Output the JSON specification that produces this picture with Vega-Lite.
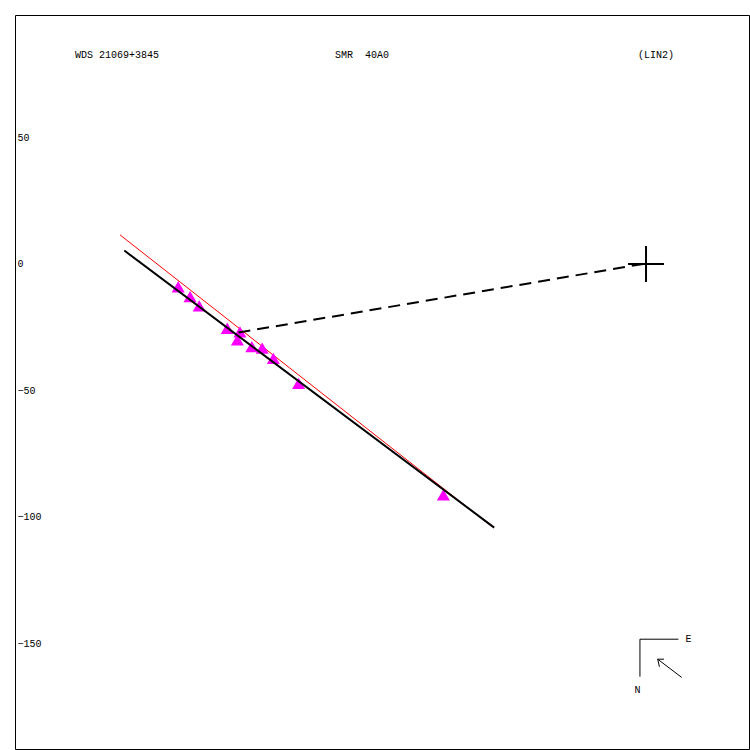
{
  "$schema": "https://vega.github.io/schema/vega-lite/v6.json",
  "width": 734,
  "height": 734,
  "autosize": {"type": "none"},
  "padding": {"left": 15, "top": 15, "right": 1, "bottom": 1},
  "background": "white",
  "config": {
    "view": {"stroke": "black", "strokeWidth": 1},
    "font": "Liberation Mono"
  },
  "datasets": {
    "fit": [{"x": -206.2, "y": 5.3, "x2": -60.0, "y2": -104.2}],
    "lin2": [{"x": -207.9, "y": 11.5, "x2": -60.9, "y2": -103.8}],
    "conn": [{"x": -161.1, "y": -27.1, "x2": -1.2, "y2": 0}],
    "compass": [
      {"x": -2.4, "y": -148.3, "x2": 12.8, "y2": -148.3},
      {"x": -2.4, "y": -148.3, "x2": -2.4, "y2": -163.1},
      {"x": 14.1, "y": -163.4, "x2": 4.6, "y2": -156.2},
      {"x": 4.6, "y": -156.2, "x2": 7.1, "y2": -156.2},
      {"x": 4.6, "y": -156.2, "x2": 5.3, "y2": -159.2}
    ],
    "obs": [
      {"x": -184.9, "y": -9.0},
      {"x": -180.2, "y": -12.9},
      {"x": -176.6, "y": -16.6},
      {"x": -165.5, "y": -25.4},
      {"x": -160.5, "y": -26.8},
      {"x": -161.5, "y": -30.0},
      {"x": -155.8, "y": -32.7},
      {"x": -151.7, "y": -33.3},
      {"x": -147.3, "y": -37.3},
      {"x": -137.3, "y": -47.2},
      {"x": -80.1, "y": -91.3}
    ],
    "primary": [{"x": 0, "y": 0}],
    "labels": [
      {"x": -225.7, "y": 82.6, "label": "WDS 21069+3845"},
      {"x": -122.9, "y": 82.6, "label": "SMR\u00a0\u00a040A0"},
      {"x": -3.2, "y": 82.6, "label": "(LIN2)"}
    ],
    "dirs": [
      {"x": 16.8, "y": -148.4, "label": "E"},
      {"x": -3.4, "y": -168.2, "label": "N"}
    ]
  },
  "encoding": {
    "x": {"field": "x", "type": "quantitative", "scale": {"domain": [-249.4, 40.7], "nice": false, "zero": false}, "axis": null},
    "y": {"field": "y", "type": "quantitative", "scale": {"domain": [-191.7, 98.4], "nice": false, "zero": false},
      "axis": {"values": [50, 0, -50, -100, -150], "grid": false, "domain": false, "ticks": false, "title": null,
        "labelAlign": "left", "labelPadding": -2, "labelBaseline": "middle", "labelFont": "Liberation Mono", "labelFontSize": 10, "labelColor": "black"}}
  },
  "layer": [
    {"data": {"name": "lin2"}, "mark": {"type": "rule", "color": "#ff0000", "strokeWidth": 1},
      "encoding": {"x2": {"field": "x2"}, "y2": {"field": "y2"}}},
    {"data": {"name": "obs"}, "mark": {"type": "point", "shape": "triangle-up", "filled": true, "color": "#ff00ff", "size": 170, "opacity": 1}},
    {"data": {"name": "fit"}, "mark": {"type": "rule", "color": "black", "strokeWidth": 2},
      "encoding": {"x2": {"field": "x2"}, "y2": {"field": "y2"}}},
    {"data": {"name": "conn"}, "mark": {"type": "rule", "color": "black", "strokeWidth": 2, "strokeDash": [12, 7]},
      "encoding": {"x2": {"field": "x2"}, "y2": {"field": "y2"}}},
    {"data": {"name": "compass"}, "mark": {"type": "rule", "color": "black", "strokeWidth": 1},
      "encoding": {"x2": {"field": "x2"}, "y2": {"field": "y2"}}},
    {"data": {"name": "primary"}, "mark": {"type": "point", "shape": "M-1,0H1M0,-1V1", "filled": false, "stroke": "black", "strokeWidth": 2, "size": 1296, "opacity": 1}},
    {"data": {"name": "labels"}, "mark": {"type": "text", "align": "left", "baseline": "middle", "font": "Liberation Mono", "fontSize": 10, "color": "black"},
      "encoding": {"text": {"field": "label"}}},
    {"data": {"name": "dirs"}, "mark": {"type": "text", "align": "center", "baseline": "middle", "font": "Liberation Mono", "fontSize": 10, "color": "black"},
      "encoding": {"text": {"field": "label"}}}
  ]
}
